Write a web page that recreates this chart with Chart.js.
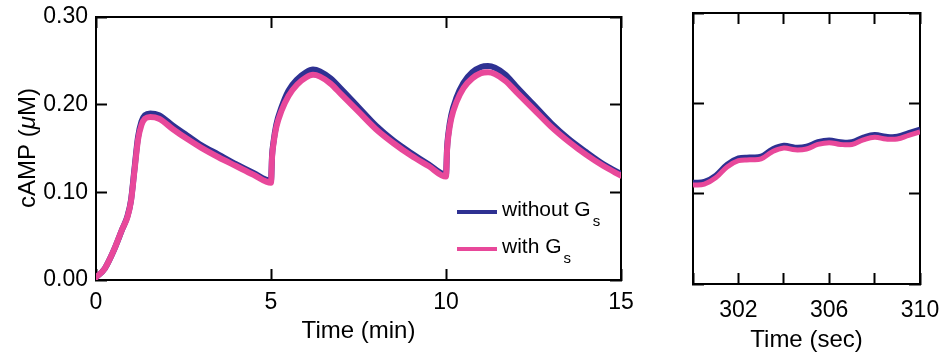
<!DOCTYPE html>
<html>
<head>
<meta charset="utf-8">
<script src="https://cdn.jsdelivr.net/npm/chart.js@4"></script>
<style>
  body { margin: 0; background: #fff; }
  #wrap { position: relative; width: 943px; height: 356px; }
  #left { position: absolute; left: 0; top: 0; }
  #right { position: absolute; left: 640px; top: 0; }
</style>
</head>
<body>
<div id="wrap">
  <canvas id="left" width="640" height="356"></canvas>
  <canvas id="right" width="303" height="356"></canvas>
</div>
<script>
// time in minutes (left panel)
const timeMin = [0, 0.25, 0.5, 0.75, 0.9, 1.0, 1.1, 1.2, 1.3, 1.4, 1.55, 1.8, 2.2, 2.6, 3.0, 3.5, 4.0, 4.5, 5.0,
  5.03, 5.07, 5.15, 5.3, 5.5, 5.75, 6.0, 6.2, 6.4, 6.7, 7.0, 7.5, 8.0, 8.5, 9.0, 9.5, 10.0,
  10.03, 10.07, 10.15, 10.3, 10.5, 10.75, 11.0, 11.2, 11.4, 11.7, 12.0, 12.5, 13.0, 13.5, 14.0, 14.5, 15.0];
const withoutGs = [0.003, 0.013, 0.033, 0.058, 0.073, 0.091, 0.127, 0.163, 0.181, 0.188, 0.190, 0.188, 0.176, 0.165, 0.154, 0.143, 0.132, 0.122, 0.113,
  0.142, 0.157, 0.177, 0.197, 0.216, 0.229, 0.237, 0.240, 0.238, 0.230, 0.218, 0.197, 0.176, 0.159, 0.145, 0.132, 0.120,
  0.150, 0.168, 0.188, 0.208, 0.225, 0.237, 0.243, 0.244, 0.242, 0.234, 0.221, 0.200, 0.179, 0.161, 0.146, 0.132, 0.121];
const withGs = [0.003, 0.013, 0.033, 0.058, 0.072, 0.090, 0.125, 0.160, 0.177, 0.184, 0.186, 0.184, 0.172, 0.161, 0.151, 0.140, 0.130, 0.120, 0.111,
  0.140, 0.155, 0.174, 0.193, 0.210, 0.223, 0.231, 0.234, 0.232, 0.224, 0.212, 0.192, 0.172, 0.156, 0.142, 0.130, 0.118,
  0.148, 0.165, 0.184, 0.203, 0.219, 0.230, 0.236, 0.237, 0.235, 0.227, 0.215, 0.195, 0.175, 0.158, 0.143, 0.130, 0.119];

// time in seconds (right panel, first 10 s after the 5 min stimulus)
const timeSec = [300, 300.5, 301, 301.5, 302, 302.5, 303, 303.5, 304, 304.5, 305, 305.5, 306, 306.5, 307, 307.5, 308, 308.5, 309, 309.5, 310];
const withoutGsSec = [0.1125, 0.1135, 0.1205, 0.1325, 0.1395, 0.1405, 0.1415, 0.1495, 0.1535, 0.1515, 0.1525, 0.1575, 0.1595, 0.1575, 0.1575, 0.1625, 0.1655, 0.1635, 0.1635, 0.1675, 0.1715];
const withGsSec = [0.1095, 0.1105, 0.1175, 0.1295, 0.1365, 0.1375, 0.1385, 0.1465, 0.1505, 0.1485, 0.1495, 0.1545, 0.1565, 0.1545, 0.1545, 0.1595, 0.1625, 0.1605, 0.1605, 0.1645, 0.1685];

const seriesNames = ['without G', 'with G'];
const subscript = 's';
const blue = '#2e3192';
const pink = '#e8489a';
const font = "'Liberation Sans', Arial, Helvetica, sans-serif";

function pts(xs, ys) {
  return xs.map((x, i) => ({ x: x, y: ys[i] }));
}

// axis with inward ticks; size fixes the box so the plot areas line up
function frameAxis(pos, min, max, step, size, extra) {
  const axis = {
    type: 'linear',
    position: pos,
    min: min,
    max: max,
    grid: { drawOnChartArea: false, tickLength: -11, tickColor: '#000', tickWidth: 2 },
    border: { color: '#000', width: 2 },
    afterFit: (s) => {
      if (s.isHorizontal()) s.height = size; else s.width = size;
      s.paddingLeft = 0; s.paddingRight = 0; s.paddingTop = 0; s.paddingBottom = 0;
    }
  };
  const out = Object.assign(axis, extra || {});
  out.ticks = Object.assign({ stepSize: step, maxRotation: 0, minRotation: 0, autoSkip: false }, extra && extra.ticks ? extra.ticks : { display: false });
  return out;
}

const legendPlugin = {
  id: 'gsLegend',
  afterDraw(chart) {
    const ctx = chart.ctx;
    const colors = [blue, pink];
    const rows = [212, 249];
    ctx.save();
    rows.forEach((y, i) => {
      ctx.strokeStyle = colors[i];
      ctx.lineWidth = 4;
      ctx.beginPath();
      ctx.moveTo(457, y);
      ctx.lineTo(497, y);
      ctx.stroke();
      ctx.fillStyle = '#000';
      ctx.textBaseline = 'alphabetic';
      ctx.font = '21px ' + font;
      ctx.fillText(seriesNames[i], 502, y + 4);
      const w = ctx.measureText(seriesNames[i]).width;
      ctx.font = '15px ' + font;
      ctx.fillText(subscript, 502 + w + 2, y + 14);
    });

    // y title with an italic mu
    const parts = [['cAMP (', ''], ['\u03bc', 'italic '], ['M)', '']];
    ctx.translate(28, 148);
    ctx.rotate(-Math.PI / 2);
    ctx.textBaseline = 'middle';
    let total = 0;
    parts.forEach((p) => { ctx.font = p[1] + '24px ' + font; total += ctx.measureText(p[0]).width; });
    let x = -total / 2;
    parts.forEach((p) => {
      ctx.font = p[1] + '24px ' + font;
      ctx.fillText(p[0], x, 0);
      x += ctx.measureText(p[0]).width;
    });
    ctx.restore();
  }
};

Chart.defaults.font.family = font;
Chart.defaults.color = '#000';

new Chart(document.getElementById('left'), {
  type: 'line',
  data: {
    datasets: [
      { label: seriesNames[0] + subscript, data: pts(timeMin, withoutGs), borderColor: blue, borderWidth: 6, order: 1 },
      { label: seriesNames[1] + subscript, data: pts(timeMin, withGs), borderColor: pink, borderWidth: 6, order: 0 }
    ]
  },
  options: {
    responsive: false,
    animation: false,
    layout: { padding: { top: 17, right: 19, left: 0, bottom: 0 } },
    elements: { point: { radius: 0 }, line: { cubicInterpolationMode: 'monotone', borderCapStyle: 'round', borderJoinStyle: 'round' } },
    plugins: { legend: { display: false }, tooltip: { enabled: false } },
    scales: {
      x: frameAxis('bottom', 0, 15, 5, 76, {
        ticks: { stepSize: 5, font: { size: 23 }, padding: 20 },
        title: { display: true, text: 'Time (min)', font: { size: 24 }, padding: { top: 0, bottom: 10 } }
      }),
      y: frameAxis('left', 0, 0.3, 0.1, 96, {
        ticks: { stepSize: 0.1, font: { size: 23 }, padding: 19, callback: (v) => v.toFixed(2) }
      }),
      x2: frameAxis('top', 0, 15, 5, 0),
      y2: frameAxis('right', 0, 0.3, 0.1, 0)
    }
  },
  plugins: [legendPlugin]
});

new Chart(document.getElementById('right'), {
  type: 'line',
  data: {
    datasets: [
      { label: seriesNames[0] + subscript, data: pts(timeSec, withoutGsSec), borderColor: blue, borderWidth: 5, order: 1 },
      { label: seriesNames[1] + subscript, data: pts(timeSec, withGsSec), borderColor: pink, borderWidth: 5, order: 0 }
    ]
  },
  options: {
    responsive: false,
    animation: false,
    layout: { padding: { top: 13, right: 23, left: 0, bottom: 0 } },
    elements: { point: { radius: 0 }, line: { tension: 0.4 } },
    plugins: { legend: { display: false }, tooltip: { enabled: false } },
    scales: {
      x: frameAxis('bottom', 300, 310, 2, 72, {
        ticks: { stepSize: 2, font: { size: 23 }, padding: 24, callback: (v) => (v % 4 === 2 ? String(v) : '') },
        title: { display: true, text: 'Time (sec)', font: { size: 24 }, padding: { top: 0, bottom: 1 } }
      }),
      y: frameAxis('left', 0, 0.3, 0.1, 53),
      x2: frameAxis('top', 300, 310, 2, 0),
      y2: frameAxis('right', 0, 0.3, 0.1, 0)
    }
  }
});
</script>
</body>
</html>
